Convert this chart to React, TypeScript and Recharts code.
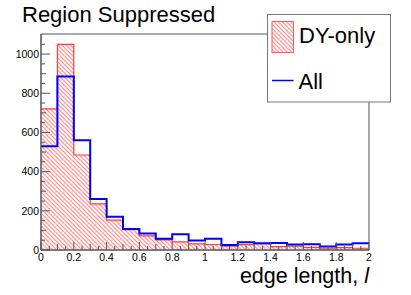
import React from 'react';
import { ComposedChart, Area, Line, XAxis, YAxis, ReferenceArea, Label } from 'recharts';

// bin lower edges (width 0.1) plus the final upper edge 2.0
const binEdges = [0, 0.1, 0.2, 0.3, 0.4, 0.5, 0.6, 0.7, 0.8, 0.9, 1.0, 1.1, 1.2, 1.3, 1.4, 1.5, 1.6, 1.7, 1.8, 1.9, 2.0];
const dyOnly = [720, 1050, 485, 235, 152, 104, 72, 52, 41, 31, 28, 20, 27, 32, 17, 20, 13, 9, 12, 9];
const allEvents = [530, 885, 560, 260, 170, 107, 84, 57, 80, 48, 57, 26, 40, 35, 36, 28, 29, 18, 28, 34];

const xTicks = [0, 0.05, 0.1, 0.15, 0.2, 0.25, 0.3, 0.35, 0.4, 0.45, 0.5, 0.55, 0.6, 0.65, 0.7, 0.75, 0.8, 0.85, 0.9, 0.95, 1.0,
  1.05, 1.1, 1.15, 1.2, 1.25, 1.3, 1.35, 1.4, 1.45, 1.5, 1.55, 1.6, 1.65, 1.7, 1.75, 1.8, 1.85, 1.9, 1.95, 2.0];
const xLabels = [0, 0.2, 0.4, 0.6, 0.8, 1, 1.2, 1.4, 1.6, 1.8, 2];
const yTicks = [0, 50, 100, 150, 200, 250, 300, 350, 400, 450, 500, 550, 600, 650, 700, 750, 800, 850, 900, 950, 1000, 1050];
const yLabels = [0, 200, 400, 600, 800, 1000];
const yMax = 1102.5;

const titleText = 'Region Suppressed';
const legendLabels = ['DY-only', 'All'];

const data = binEdges.map((x, i) => {
  const k = Math.min(i, dyOnly.length - 1);
  return { x, dy: dyOnly[k], all: allEvents[k] };
});

const FONT = '"Liberation Sans", Arial, Helvetica, sans-serif';
const AXIS = '#555555';

const near = (a: number, b: number) => Math.abs(a - b) < 1e-6;

const XTick = (props: any) => {
  const { x, y, payload } = props;
  const v = payload.value as number;
  const labeled = xLabels.some((l) => near(l, v));
  const tenth = near(Math.round(v * 10), v * 10);
  const len = labeled ? 8 : tenth ? 6 : 4;
  return (
    <g>
      <line x1={x} x2={x} y1={y} y2={y - len} stroke={AXIS} strokeWidth={1} />
      {labeled && (
        <text x={x} y={y + 11} textAnchor="middle" fontFamily={FONT} fontSize={10.5} fill="#000">
          {String(Math.round(v * 10) / 10)}
        </text>
      )}
    </g>
  );
};

const YTick = (props: any) => {
  const { x, y, payload } = props;
  const v = payload.value as number;
  const labeled = yLabels.includes(v);
  const hundred = v % 100 === 0;
  const len = labeled ? 9 : hundred ? 5 : 4;
  return (
    <g>
      <line x1={x} x2={x + len} y1={y} y2={y} stroke={AXIS} strokeWidth={1} />
      {labeled && (
        <text x={x - 2} y={y + 3.8} textAnchor="end" fontFamily={FONT} fontSize={10.5} fill="#000">
          {v}
        </text>
      )}
    </g>
  );
};

const XTitle = (props: any) => {
  const vb = props.viewBox || { x: 41, y: 250, width: 328 };
  return (
    <text x={vb.x + vb.width} y={vb.y + 33} textAnchor="end" fontFamily={FONT} fontSize={21.5} fill="#000">
      edge length, <tspan fontStyle="italic">l</tspan>
    </text>
  );
};

export default function App() {
  return (
    <div style={{ position: 'absolute', left: 0, top: 0, width: 411, height: 295, background: '#fff' }}>
      <ComposedChart width={411} height={295} data={data} margin={{ top: 34, right: 42, bottom: 0, left: 0 }}>
        <defs>
          <pattern id="hatch" patternUnits="userSpaceOnUse" width={4.2} height={4.2}>
            <path d="M0,0 L4.2,4.2 M3.2,-1 L5.2,1 M-1,3.2 L1,5.2" stroke="#ff7070" strokeWidth={1} />
          </pattern>
        </defs>
        <XAxis
          dataKey="x"
          type="number"
          domain={[0, 2]}
          ticks={xTicks}
          interval={0}
          height={45}
          tickSize={0}
          tickMargin={0}
          tickLine={false}
          tick={<XTick />}
          axisLine={{ stroke: AXIS }}
        >
          <Label content={<XTitle />} />
        </XAxis>
        <YAxis
          type="number"
          domain={[0, yMax]}
          ticks={yTicks}
          interval={0}
          width={41}
          tickSize={0}
          tickMargin={0}
          tickLine={false}
          tick={<YTick />}
          axisLine={{ stroke: AXIS }}
        />
        <Area
          type="stepAfter"
          dataKey="dy"
          stroke="#ff3b3b"
          strokeWidth={1.2}
          fill="url(#hatch)"
          fillOpacity={1}
          isAnimationActive={false}
          dot={false}
          activeDot={false}
        />
        <Line
          type="stepAfter"
          dataKey="all"
          stroke="#0000ff"
          strokeWidth={2}
          dot={false}
          activeDot={false}
          isAnimationActive={false}
        />
        <ReferenceArea x1={0} x2={2} y1={0} y2={yMax} fill="none" stroke={AXIS} strokeWidth={1} ifOverflow="visible" />
      </ComposedChart>
      <svg width={411} height={295} style={{ position: 'absolute', left: 0, top: 0, pointerEvents: 'none' }}>
        <defs>
          <pattern id="hatchLegend" patternUnits="userSpaceOnUse" width={4.2} height={4.2}>
            <path d="M0,0 L4.2,4.2 M3.2,-1 L5.2,1 M-1,3.2 L1,5.2" stroke="#ff7070" strokeWidth={1} />
          </pattern>
        </defs>
        <text x={22} y={22.3} fontFamily={FONT} fontSize={22} fill="#000">{titleText}</text>
        <rect x={267.5} y={14.5} width={123} height={87.5} fill="#fff" stroke="#777" strokeWidth={1} />
        <rect x={272} y={21.5} width={21.5} height={31} fill="url(#hatchLegend)" stroke="#ff5a5a" strokeWidth={1} />
        <text x={299} y={43.3} fontFamily={FONT} fontSize={22} fill="#000">{legendLabels[0]}</text>
        <line x1={272} x2={293.5} y1={80.5} y2={80.5} stroke="#0000ff" strokeWidth={1.5} />
        <text x={298.5} y={88.7} fontFamily={FONT} fontSize={22} fill="#000">{legendLabels[1]}</text>
      </svg>
    </div>
  );
}
